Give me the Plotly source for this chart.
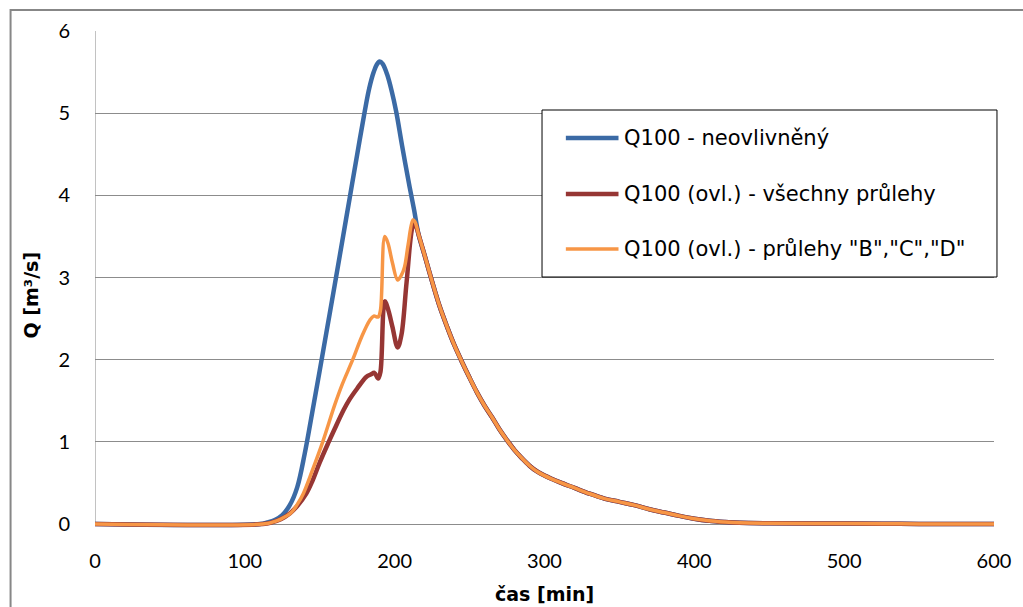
import plotly.graph_objects as go

# ---- data ----
t_blue = [0, 110, 115, 120, 125, 130, 135, 140, 145, 150, 155, 160, 165, 170, 175, 180, 183, 186, 188, 190, 192, 195, 198, 201, 205, 210, 213]
q_blue = [0, 0, 0.02, 0.05, 0.11, 0.23, 0.45, 0.86, 1.36, 1.87, 2.39, 2.91, 3.44, 3.97, 4.5, 5.02, 5.3, 5.5, 5.59, 5.63, 5.6, 5.47, 5.27, 5.02, 4.6, 4.1, 3.82]

t_red = [0, 112, 118, 124, 130, 135, 141, 145, 150, 156, 160, 166, 170, 175, 181, 184, 186.5, 189, 190.5, 193.4, 195.5, 198.5, 202, 204.5, 208, 212, 213.5]
q_red = [0, 0, 0.02, 0.06, 0.13, 0.22, 0.37, 0.52, 0.75, 1.0, 1.16, 1.39, 1.52, 1.65, 1.79, 1.82, 1.84, 1.77, 1.85, 2.71, 2.62, 2.4, 2.15, 2.3, 2.95, 3.62, 3.66]

t_orange = [0, 112, 118, 124, 131, 135, 139, 145, 152, 160, 165, 172, 178, 183.4, 186, 189, 190.5, 193.4, 195.5, 198.5, 202, 204.5, 206.6, 209, 212.2, 213.5]
q_orange = [0, 0, 0.02, 0.06, 0.14, 0.24, 0.37, 0.65, 1.0, 1.45, 1.7, 2.0, 2.28, 2.48, 2.53, 2.52, 2.6, 3.5, 3.42, 3.18, 2.97, 3.03, 3.13, 3.4, 3.7, 3.68]

# common recession limb (all three series coincide)
t_tail = [216, 220, 225, 230, 235, 240, 245, 250, 255, 260, 265, 270, 275, 280, 285, 290, 295, 300, 310, 320, 330, 340, 350, 360, 370, 380, 390, 400, 410, 420, 430, 450, 480, 525, 550, 600]
q_tail = [3.52, 3.27, 2.95, 2.65, 2.4, 2.17, 1.97, 1.78, 1.6, 1.44, 1.3, 1.15, 1.02, 0.9, 0.8, 0.71, 0.64, 0.59, 0.51, 0.44, 0.37, 0.31, 0.27, 0.23, 0.18, 0.14, 0.1, 0.065, 0.04, 0.025, 0.015, 0.01, 0.008, 0.005, 0.0, 0.0]

names = ["Q100 - neovlivněný", "Q100 (ovl.) - všechny průlehy", 'Q100 (ovl.) - průlehy "B","C","D"']
colors = ["#3B6AA5", "#963634", "#F79646"]
widths = [4.5, 4.5, 3.5]

x_ticks = [0, 100, 200, 300, 400, 500, 600]
y_ticks = [0, 1, 2, 3, 4, 5, 6]

TICK_FONT = "Lato"
TEXT_FONT = "DejaVu Sans"
W, H = 1023, 607
ML, MR, MT, MB = 95, 23, 31, 78


def px(xp):
    return (xp - ML) / (W - ML - MR)


def py(yp):
    return (H - MB - yp) / (H - MT - MB)


series = [(t_blue, q_blue), (t_red, q_red), (t_orange, q_orange)]

fig = go.Figure()
for (tt, qq), nm, c, w in zip(series, names, colors, widths):
    fig.add_trace(go.Scatter(
        x=tt + t_tail, y=qq + q_tail, mode="lines", name=nm,
        line=dict(color=c, width=w, shape="spline", smoothing=1.0),
        showlegend=False,
    ))

shapes = []
# outer chart frame
shapes.append(dict(type="rect", xref="paper", yref="paper",
                   x0=px(10), y0=py(10), x1=px(1040), y1=py(640),
                   line=dict(color="#878787", width=2), fillcolor="rgba(0,0,0,0)", layer="below"))
# left axis line
shapes.append(dict(type="line", xref="x", yref="y", x0=0, x1=0, y0=0, y1=6,
                   line=dict(color="#868686", width=1), layer="below"))
# legend box
lx0, ly0, lx1, ly1 = 545, 110, 1003, 277
shapes.append(dict(type="rect", xref="paper", yref="paper",
                   x0=px(lx0), y0=py(ly0), x1=px(lx1), y1=py(ly1),
                   line=dict(color="#000000", width=1), fillcolor="white", layer="above"))
row_y = [138, 194, 249]
annotations = []
for ry, nm, c, w in zip(row_y, names, colors, widths):
    shapes.append(dict(type="line", xref="paper", yref="paper",
                       x0=px(569), x1=px(622), y0=py(ry), y1=py(ry),
                       line=dict(color=c, width=w), layer="above"))
    annotations.append(dict(xref="paper", yref="paper", x=px(626), y=py(ry),
                            text=nm, showarrow=False, xanchor="left", yanchor="middle",
                            font=dict(family=TEXT_FONT, size=21, color="#000000")))

# axis titles
annotations.append(dict(xref="paper", yref="paper", x=px(31), y=py(295),
                        text="<b>Q [m³/s]</b>", textangle=-90, showarrow=False,
                        xanchor="center", yanchor="middle",
                        font=dict(family=TEXT_FONT, size=19, color="#000000")))
annotations.append(dict(xref="paper", yref="paper", x=px(547), y=py(594),
                        text="<b>čas [min]</b>", showarrow=False,
                        xanchor="center", yanchor="middle",
                        font=dict(family=TEXT_FONT, size=19, color="#000000")))

fig.update_layout(
    width=W, height=H,
    margin=dict(l=ML, r=MR, t=MT, b=MB, pad=0),
    paper_bgcolor="white", plot_bgcolor="white",
    font=dict(family=TICK_FONT, size=20, color="#000000"),
    shapes=shapes, annotations=annotations,
    showlegend=False,
)
fig.update_xaxes(range=[0, 600], tickvals=x_ticks, ticktext=[str(v) for v in x_ticks],
                 showgrid=False, zeroline=False, showline=False, ticks="",
                 ticklabelstandoff=18, tickfont=dict(family=TICK_FONT, size=20, color="#000000"))
fig.update_yaxes(range=[-0.06, 6], tickvals=y_ticks, ticktext=[str(v) for v in y_ticks],
                 showgrid=True, gridcolor="#8C8C8C", gridwidth=1,
                 zeroline=False, showline=False, ticks="",
                 ticklabelstandoff=24, tickfont=dict(family=TICK_FONT, size=20, color="#000000"))

fig.write_html("out.html")
